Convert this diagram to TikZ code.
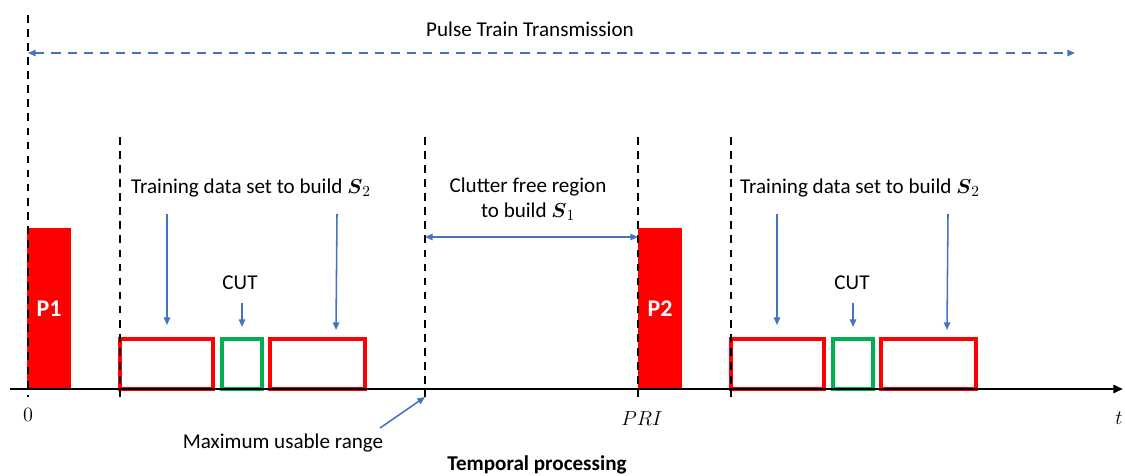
\documentclass[tikz,border=0pt]{standalone}
\usepackage{amsmath}
\usepackage{fontspec}
\setmainfont{Carlito}
\usetikzlibrary{arrows.meta,positioning}
\definecolor{PulseRed}{HTML}{FF0000}
\definecolor{CutGreen}{HTML}{00B050}
\definecolor{ArrowBlue}{HTML}{4472C4}
\tikzset{
  pulse/.style={
    fill=PulseRed, text=white, font=\fontsize{17}{19}\selectfont\bfseries,
    minimum width=1.1cm, minimum height=4.025cm,
    inner sep=0pt, outer sep=0pt, anchor=south west
  },
  refcell/.style={
    draw=PulseRed, line width=2.6pt, minimum width=2.325cm,
    minimum height=1.25cm, inner sep=0pt, outer sep=0pt
  },
  testcell/.style={refcell, draw=CutGreen, minimum width=1.0cm},
  gate/.style={draw=black, line width=1.7pt, dash pattern=on 5.5pt off 4.5pt},
  axisline/.style={-{Triangle[length=2.4mm,width=2mm]}, draw=black, line width=1.7pt},
  pointer/.style={-{Triangle[length=1.9mm,width=1.6mm]}, draw=ArrowBlue, line width=1.1pt},
  span/.style={{Triangle[length=1.9mm,width=1.6mm]}-{Triangle[length=1.9mm,width=1.6mm]},
    draw=ArrowBlue, line width=1.1pt},
  txt/.style={font=\fontsize{15}{18}\selectfont, align=center, inner sep=0pt}
}

\begin{document}
\begin{tikzpicture}[x=0.025cm, y=-0.025cm]
    \useasboundingbox (0,0) rectangle (1125,475);
    % pulses
    \node[pulse] (p1) at (27,389) {P1};
    \node[pulse] (p2) at (638,389) {P2};
    % reference and test cells
    \node[refcell, anchor=south west] (r1) at (120,389) {};
    \node[testcell, right=0.225cm of r1] (c1) {};
    \node[refcell, right=0.2cm of c1, minimum width=2.375cm] (r2) {};
    \node[refcell, anchor=south west] (r3) at (731,389) {};
    \node[testcell, right=0.225cm of r3] (c2) {};
    \node[refcell, right=0.2cm of c2, minimum width=2.375cm] (r4) {};
    % time axis
    \coordinate (axl) at (10,389);
    \coordinate (axr) at (1123,389);
    \draw[axisline] (axl) -- (axr);
    % range gates
    \foreach \n/\x/\t in {0/28/15,1/120/137,2/425/137,3/638/137,4/731/137}{
      \coordinate (gt\n) at (\x,\t);
      \coordinate (gb\n) at (\x,397);
      \draw[gate] (gt\n) -- (gb\n);
    }
    % axis labels
    \node[txt, font=\fontsize{14}{16}\selectfont] (zero) at (28,415) {$0$};
    \node[txt, font=\fontsize{14}{16}\selectfont] (pri) at (642,419) {$PRI$};
    \node[txt, font=\fontsize{14}{16}\selectfont] (tlab) at (1119,418) {$t$};
    % pulse train
    \node[txt] (ptt) at (530,29) {Pulse Train Transmission};
    \coordinate (ptl) at (28,53);
    \coordinate (ptr) at (1075,53);
    \draw[span, dash pattern=on 6.5pt off 5pt] (ptl) -- (ptr);
    % training sets
    \node[txt] (tr1) at (251,188) {Training data set to build $\boldsymbol{S}_2$};
    \node[txt] (tr2) at (860,188) {Training data set to build $\boldsymbol{S}_2$};
    \node[txt] (cut1) at (240,283) {CUT};
    \node[txt] (cut2) at (852,283) {CUT};
    \coordinate (a1) at (167,214);  \coordinate (b1) at (167,325);
    \coordinate (a2) at (337,214);  \coordinate (b2) at (336,330);
    \coordinate (a3) at (777,214);  \coordinate (b3) at (777,325);
    \coordinate (a4) at (948,214);  \coordinate (b4) at (947,330);
    \draw[pointer] (a1) -- (b1);
    \draw[pointer] (a2) -- (b2);
    \draw[pointer] (a3) -- (b3);
    \draw[pointer] (a4) -- (b4);
    \draw[pointer] ([yshift=0.9cm]c1.north) -- ([yshift=0.3cm]c1.north);
    \draw[pointer] ([yshift=0.9cm]c2.north) -- ([yshift=0.3cm]c2.north);
    % clutter free region
    \node[txt] (cfr) at (528,199) {Clutter free region\\to build $\boldsymbol{S}_1$};
    \coordinate (s1l) at (425,237);
    \coordinate (s1r) at (638,237);
    \draw[span] (s1l) -- (s1r);
    % maximum usable range
    \node[txt] (mur) at (283,443) {Maximum usable range};
    \coordinate (murt) at (380,428);
    \draw[pointer] (murt) -- (gb2);
    \node[txt, font=\fontsize{15}{18}\selectfont\bfseries] (tp) at (537,465) {Temporal processing};
\end{tikzpicture}
\end{document}
